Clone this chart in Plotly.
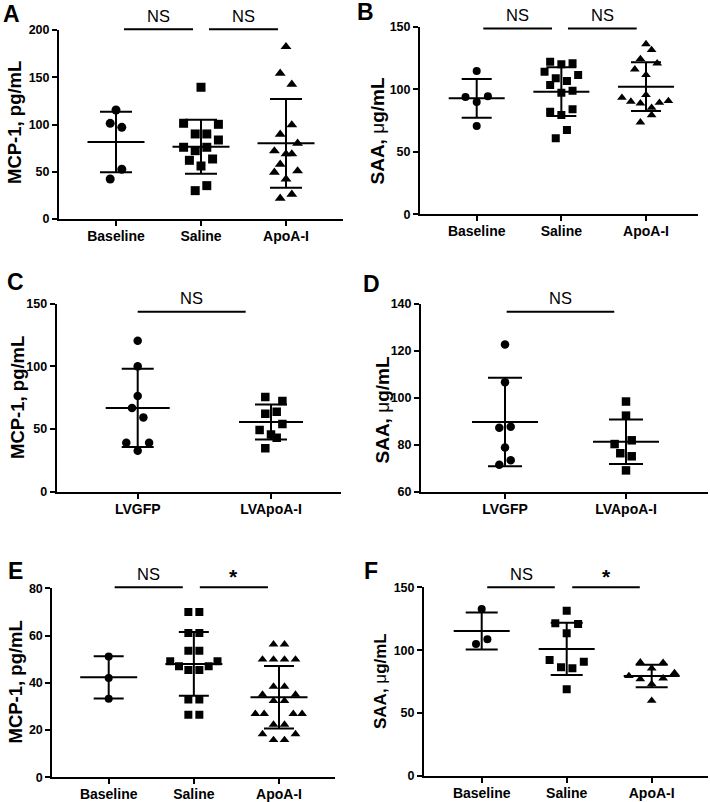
import plotly.graph_objects as go

# ---------------- data ----------------
cats_abef = ["Baseline", "Saline", "ApoA-I"]
cats_cd = ["LVGFP", "LVApoA-I"]

# Panel A: MCP-1, pg/mL
a_baseline = [115.3, 101.2, 97.0, 52.6, 42.3]
a_saline = [139.4, 101.3, 100.2, 90.0, 90.0, 83.6, 75.9, 75.9, 72.3, 62.1, 63.5, 56.1, 35.3, 30.0]
a_apoai = [182.3, 154.2, 142.5, 99.5, 89.6, 80.1, 72.0, 68.8, 68.8, 57.9, 49.4, 50.8, 42.3, 26.1, 21.9]
a_mean = [81.6, 76.5, 80.1]
a_sd = [32.0, 28.5, 47.0]
a_baseline_col = [0, -1, 1, 1, -1]
a_saline_col = [0, -3, 3, -1, 1, 3, -3, 1, -1, -2, 2, 0, 1, -1]
a_apoai_col = [0, -1, 1, 1, -1, 2, -2, 0, 1, -1, -2, 2, 0, 1, -1]

# Panel B: SAA, ug/mL
b_baseline = [114.6, 93.8, 89.8, 94.3, 70.6]
b_saline = [122.0, 119.9, 120.7, 114.0, 111.4, 108.7, 106.6, 103.4, 97.2, 98.8, 84.0, 82.0, 79.4, 67.4, 60.8]
b_apoai = [136.1, 131.4, 124.2, 120.7, 115.9, 111.4, 95.4, 93.2, 90.1, 88.7, 85.2, 89.2, 90.6, 79.4, 73.6]
b_mean = [92.7, 98.0, 102.0]
b_sd = [15.5, 19.5, 19.5]
b_baseline_col = [0, -2, 0, 2, 0]
b_saline_col = [-2, 0, 2, -3, 3, -1, 1, -2, 0, 2, 2, -2, 0, 1, -1]
b_apoai_col = [0, 1, -1, 2, -2, 0, 0, -4.3, -2.7, -1, 1, 2.4, 4, 1, -1]

# Panel C: MCP-1, pg/mL
c_lvgfp = [120.5, 100.0, 76.3, 66.8, 59.3, 39.1, 39.1, 32.7]
c_lvapoai = [75.5, 72.3, 62.2, 63.8, 54.0, 49.2, 45.7, 43.1, 34.6]
c_mean = [66.8, 55.6]
c_sd = [31.2, 14.0]
c_lvgfp_col = [0, 0, 0, -1, 1, -2, 2, 0]
c_lvapoai_col = [-1, 2, -1, 1, 2, -2, 0, 1, -1]

# Panel D: SAA, ug/mL
d_lvgfp = [122.8, 106.7, 87.3, 87.8, 78.9, 71.6, 73.5]
d_lvapoai = [98.5, 92.5, 80.4, 82.0, 76.5, 75.2, 69.2]
d_mean = [89.8, 81.4]
d_sd = [18.8, 9.5]
d_lvgfp_col = [0, 0, -1, 1, 0, -1, 1]
d_lvapoai_col = [0, 0, -2, 1, -1, 1, 0]

# Panel E: MCP-1, pg/mL
e_baseline = [51.1, 42.0, 33.3]
e_saline = [70.0, 70.0, 61.1, 61.1, 53.6, 53.6, 49.1, 49.1, 47.0, 47.0, 45.4, 45.4, 32.9, 32.9, 26.5, 26.5]
e_apoai = [56.3, 56.3, 49.9, 49.9, 49.9, 49.9, 38.4, 38.4, 35.0, 35.0, 32.4, 32.4,
           26.9, 26.9, 26.9, 26.9, 22.3, 22.3, 18.3, 18.3, 15.8, 15.8]
e_mean = [42.3, 48.0, 33.9]
e_sd = [8.9, 13.5, 13.2]
e_baseline_col = [0, 0, 0]
e_saline_col = [-1, 1, -1, 1, -1, 1, -4.3, 4.3, -2.7, 2.7, -1, 1, -1, 1, -1, 1]
e_apoai_col = [-1, 1, -3, -1, 1, 3, -1, 1, -3, 3, -1, 1, -4.3, -2.7, 2.6, 4.2, -1, 1, -3, 3, -1, 1]

# Panel F: SAA, ug/mL
f_baseline = [132.8, 108.7, 104.9]
f_saline = [131.4, 121.4, 120.8, 113.4, 92.2, 90.9, 86.4, 85.6, 68.9]
f_apoai = [90.4, 90.1, 85.6, 79.5, 77.1, 77.7, 81.9, 73.1, 59.9]
f_mean = [115.3, 101.0, 79.5]
f_sd = [14.7, 20.8, 9.0]
f_baseline_col = [0, 1, -1]
f_saline_col = [0, -2, 2, 0, -3, 3, -1, 1, 0]
f_apoai_col = [-2, 2, 0, -4, -2, 2, 4, 0, 0]

sig_abef = [("NS", 0, 1), ("NS", 1, 2)]
sig_cd = [("NS", 0, 1)]
sig_ef = [("NS", 0, 1), ("*", 1, 2)]

mcp_title = "MCP-1, pg/mL"
saa_title = "SAA, <span style='font-weight:normal'>\u03bc</span>g/mL"

# ---------------- layout / style ----------------
W, H = 710, 802
FONT = "Liberation Sans, Arial, sans-serif"

panels = [
    dict(letter="A", xpx=(59, 343), ypx=(219, 30), cat_px=(116, 286), yr=(0, 200), ytv=[0, 50, 100, 150, 200],
         cats=cats_abef, groups=[(a_baseline, a_baseline_col, "circle"), (a_saline, a_saline_col, "square"),
                                 (a_apoai, a_apoai_col, "triangle-up")],
         mean=a_mean, sd=a_sd, step=5.8, msize=9, meanhalf=28.5, caphalf=16,
         sig=sig_abef, bar_off=(0.094, 0.094), bar_y=1.004,
         ytitle=mcp_title, ytsize=18.5, ytpos=(14.5, 122.5), letpos=(11, 13.5)),
    dict(letter="B", xpx=(420, 698), ypx=(214.3, 26.7), cat_px=(476.7, 646), yr=(0, 150), ytv=[0, 50, 100, 150],
         cats=cats_abef, groups=[(b_baseline, b_baseline_col, "circle"), (b_saline, b_saline_col, "square"),
                                 (b_apoai, b_apoai_col, "triangle-up")],
         mean=b_mean, sd=b_sd, step=5.6, msize=8, meanhalf=28, caphalf=15,
         sig=sig_abef, bar_off=(0.078, 0.11), bar_y=0.991,
         ytitle=saa_title, ytsize=19, ytpos=(376.5, 131), letpos=(365, 12)),
    dict(letter="C", xpx=(56.7, 341), ypx=(491.7, 303.7), cat_px=(137.7, 271), yr=(0, 150), ytv=[0, 50, 100, 150],
         cats=cats_cd, groups=[(c_lvgfp, c_lvgfp_col, "circle"), (c_lvapoai, c_lvapoai_col, "square")],
         mean=c_mean, sd=c_sd, step=5.7, msize=8.5, meanhalf=32, caphalf=16,
         sig=sig_cd, bar_off=(0.0, 0.19), bar_y=0.957,
         ytitle=mcp_title, ytsize=18.5, ytpos=(17, 398), letpos=(15.5, 282.5)),
    dict(letter="D", xpx=(421, 708), ypx=(492, 304), cat_px=(505, 626), yr=(60, 140), ytv=[60, 80, 100, 120, 140],
         cats=cats_cd, groups=[(d_lvgfp, d_lvgfp_col, "circle"), (d_lvapoai, d_lvapoai_col, "square")],
         mean=d_mean, sd=d_sd, step=5.7, msize=8.5, meanhalf=33, caphalf=17,
         sig=sig_cd, bar_off=(0.014, 0.097), bar_y=0.959,
         ytitle=saa_title, ytsize=19, ytpos=(381.5, 410), letpos=(371.5, 284)),
    dict(letter="E", xpx=(52.3, 335), ypx=(777.3, 588.3), cat_px=(108.7, 279), yr=(0, 80), ytv=[0, 20, 40, 60, 80],
         cats=cats_abef, groups=[(e_baseline, e_baseline_col, "circle"), (e_saline, e_saline_col, "square"),
                                 (e_apoai, e_apoai_col, "triangle-up")],
         mean=e_mean, sd=e_sd, step=5.5, msize=8, meanhalf=28.5, caphalf=15,
         sig=sig_ef, bar_off=(0.07, 0.13), bar_y=1.005,
         ytitle=mcp_title, ytsize=18.5, ytpos=(15, 682.5), letpos=(15, 571)),
    dict(letter="F", xpx=(424, 708), ypx=(776, 587.3), cat_px=(481.7, 651.7), yr=(0, 150), ytv=[0, 50, 100, 150],
         cats=cats_abef, groups=[(f_baseline, f_baseline_col, "circle"), (f_saline, f_saline_col, "square"),
                                 (f_apoai, f_apoai_col, "triangle-up")],
         mean=f_mean, sd=f_sd, step=5.7, msize=8, meanhalf=28, caphalf=16,
         sig=sig_ef, bar_off=(0.065, 0.14), bar_y=1.0,
         ytitle=saa_title, ytsize=17, ytpos=(380, 681), letpos=(370.5, 571)),
]

fig = go.Figure()
layout = dict(template="none", width=W, height=H, margin=dict(l=0, r=0, t=0, b=0, autoexpand=False),
              paper_bgcolor="white", plot_bgcolor="white", showlegend=False,
              font=dict(family=FONT, color="black"))
annotations = []
shapes = []

for n, p in enumerate(panels, start=1):
    sfx = "" if n == 1 else str(n)
    ncat = len(p["cats"])
    sp = (p["cat_px"][1] - p["cat_px"][0]) / (ncat - 1)
    xr = (-(p["cat_px"][0] - p["xpx"][0]) / sp, (ncat - 1) + (p["xpx"][1] - p["cat_px"][1]) / sp)
    px_per_cat = sp
    xdom = [p["xpx"][0] / W, p["xpx"][1] / W]
    ydom = [1 - p["ypx"][0] / H, 1 - p["ypx"][1] / H]

    axis_common = dict(showline=True, linewidth=2, linecolor="black", ticks="outside", ticklen=5,
                       tickwidth=2, tickcolor="black", showgrid=False, zeroline=False, fixedrange=True,
                       automargin=False)
    layout["xaxis" + sfx] = dict(axis_common, domain=xdom, range=list(xr), anchor="y" + sfx,
                                 tickmode="array", tickvals=list(range(ncat)), ticktext=p["cats"],
                                 ticklabelstandoff=-2,
                                 tickfont=dict(family=FONT, size=14, color="black", weight="bold"))
    layout["yaxis" + sfx] = dict(axis_common, domain=ydom, range=list(p["yr"]), anchor="x" + sfx,
                                 tickmode="array", tickvals=p["ytv"],
                                 tickfont=dict(family=FONT, size=12.5, color="black", weight="bold"))

    # scatter points
    for gi, (vals, cols, sym) in enumerate(p["groups"]):
        xs = [gi + c * p["step"] / px_per_cat for c in cols]
        size = p["msize"] if sym != "triangle-up" else p["msize"] + 0.5
        fig.add_trace(go.Scatter(x=xs, y=vals, mode="markers", xaxis="x" + sfx, yaxis="y" + sfx,
                                 marker=dict(symbol=sym, size=size, color="black", line=dict(width=0)),
                                 hoverinfo="skip"))
    # mean line + SD
    fig.add_trace(go.Scatter(x=list(range(ncat)), y=p["mean"], mode="markers", xaxis="x" + sfx, yaxis="y" + sfx,
                             marker=dict(symbol="line-ew", size=2 * p["meanhalf"] / 1.4, color="black",
                                         line=dict(width=2, color="black")),
                             error_y=dict(type="data", array=p["sd"], visible=True, color="black",
                                          thickness=2, width=p["caphalf"]),
                             hoverinfo="skip"))

    # significance bars
    for txt, i, j in p["sig"]:
        x0 = i + p["bar_off"][0]
        x1 = j - p["bar_off"][1]
        shapes.append(dict(type="line", xref="x" + sfx, yref="y" + sfx + " domain", x0=x0, x1=x1,
                           y0=p["bar_y"], y1=p["bar_y"], line=dict(color="black", width=2)))
        is_star = txt == "*"
        annotations.append(dict(text=txt, xref="x" + sfx, yref="y" + sfx + " domain", x=(x0 + x1) / 2,
                                y=p["bar_y"], yshift=11 if is_star else 13.5, showarrow=False,
                                xanchor="center", yanchor="middle",
                                font=dict(family=FONT, size=21 if is_star else 16.5, color="black",
                                          weight="bold" if is_star else "normal")))

    # y-axis title
    annotations.append(dict(text=p["ytitle"], xref="paper", yref="paper", x=p["ytpos"][0] / W,
                            y=1 - p["ytpos"][1] / H, textangle=-90, showarrow=False,
                            xanchor="center", yanchor="middle",
                            font=dict(family=FONT, size=p["ytsize"], color="black", weight="bold")))
    # panel letter
    annotations.append(dict(text=p["letter"], xref="paper", yref="paper", x=p["letpos"][0] / W,
                            y=1 - p["letpos"][1] / H, showarrow=False, xanchor="center", yanchor="middle",
                            font=dict(family=FONT, size=23, color="black", weight="bold")))

layout["annotations"] = annotations
layout["shapes"] = shapes
fig.update_layout(**layout)
fig.write_html("out.html", config={"displayModeBar": False},
               post_script="document.body.style.margin='0px';document.body.style.overflow='hidden';")
